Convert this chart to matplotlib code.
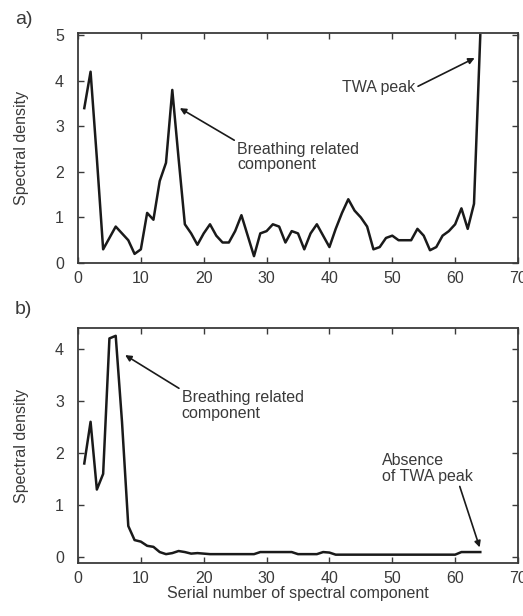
import numpy as np
import matplotlib
matplotlib.use("Agg")
import matplotlib.pyplot as plt

plt.rcParams['font.family'] = ['Liberation Sans', 'DejaVu Sans']

# Panel a) spectrum with TWA peak
comp_a = list(range(1, 65))
dens_a = [3.4, 4.2, 2.3, 0.3, 0.55, 0.8, 0.65, 0.5, 0.2, 0.3,
          1.1, 0.95, 1.8, 2.2, 3.8, 2.3, 0.85, 0.65, 0.4, 0.65,
          0.85, 0.6, 0.45, 0.45, 0.7, 1.05, 0.6, 0.15, 0.65, 0.7,
          0.85, 0.8, 0.45, 0.7, 0.65, 0.3, 0.65, 0.85, 0.6, 0.35,
          0.75, 1.1, 1.4, 1.15, 1.0, 0.8, 0.3, 0.35, 0.55, 0.6,
          0.5, 0.5, 0.5, 0.75, 0.6, 0.28, 0.35, 0.6, 0.7, 0.85,
          1.2, 0.75, 1.3, 5.0]

# Panel b) spectrum without TWA peak
comp_b = list(range(1, 65))
dens_b = [1.8, 2.6, 1.3, 1.6, 4.2, 4.25, 2.6, 0.6, 0.33, 0.3,
          0.22, 0.2, 0.1, 0.06, 0.08, 0.12, 0.1, 0.07, 0.08, 0.07,
          0.06, 0.06, 0.06, 0.06, 0.06, 0.06, 0.06, 0.06, 0.1, 0.1,
          0.1, 0.1, 0.1, 0.1, 0.06, 0.06, 0.06, 0.06, 0.1, 0.09,
          0.05, 0.05, 0.05, 0.05, 0.05, 0.05, 0.05, 0.05, 0.05, 0.05,
          0.05, 0.05, 0.05, 0.05, 0.05, 0.05, 0.05, 0.05, 0.05, 0.05,
          0.1, 0.1, 0.1, 0.1]

xticks = [0, 10, 20, 30, 40, 50, 60, 70]

gray = '#3a3a3a'
fs = 11.5

fig = plt.figure(figsize=(5.23, 6.16), dpi=100)
W, H = 523, 616
axA = fig.add_axes([78 / W, 1 - 263 / H, 440 / W, 230 / H])
axB = fig.add_axes([78 / W, 1 - 563 / H, 440 / W, 235 / H])


def style(ax, ylim, yticks):
    ax.set_xlim(0, 70)
    ax.set_ylim(*ylim)
    ax.set_xticks(xticks)
    ax.set_yticks(yticks)
    ax.tick_params(direction='in', top=True, right=True, length=4,
                   width=1, colors=gray, labelsize=fs)
    ax.tick_params(axis='x', pad=6)
    ax.tick_params(axis='y', pad=10)
    for sp in ax.spines.values():
        sp.set_color(gray)
        sp.set_linewidth(1.3)
    ax.set_ylabel("Spectral density", fontsize=fs, color=gray, labelpad=19)


arrow = dict(arrowstyle='-|>', color='#1a1a1a', lw=1.2,
             shrinkA=0, shrinkB=0, mutation_scale=9)

axA.plot(comp_a, dens_a, color='#1a1a1a', lw=1.8)
style(axA, (0, 5.05), [0, 1, 2, 3, 4, 5])
axA.annotate("Breathing related\ncomponent", xy=(16.2, 3.4), xytext=(25.3, 2.66),
             fontsize=fs, color=gray, ha='left', va='top', linespacing=1.05,
             arrowprops=dict(arrow, relpos=(0, 1)))
axA.annotate("TWA peak", xy=(63.1, 4.5), xytext=(42, 3.85),
             fontsize=fs, color=gray, ha='left', va='center',
             arrowprops=dict(arrow, relpos=(1, 0.5)))

axB.plot(comp_b, dens_b, color='#1a1a1a', lw=1.8)
style(axB, (-0.11, 4.4), [0, 1, 2, 3, 4])
axB.annotate("Breathing related\ncomponent", xy=(7.5, 3.88), xytext=(16.5, 3.21),
             fontsize=fs, color=gray, ha='left', va='top', linespacing=1.05,
             arrowprops=dict(arrow, relpos=(0, 1)))
axB.annotate("Absence\nof TWA peak", xy=(63.9, 0.19), xytext=(48.3, 2.0),
             fontsize=fs, color=gray, ha='left', va='top', linespacing=1.05,
             arrowprops=dict(arrow, relpos=(0.85, 0)))
axB.set_xlabel("Serial number of spectral component", fontsize=fs,
               color=gray, labelpad=0)

fig.text(15 / W, 1 - 20 / H, "a)", fontsize=14, color=gray, va='center')
fig.text(15 / W, 1 - 310 / H, "b)", fontsize=14, color=gray, va='center')

fig.savefig("out.png", dpi=100)
